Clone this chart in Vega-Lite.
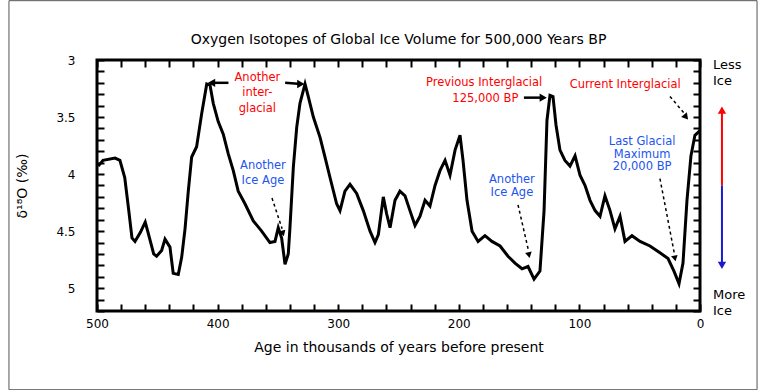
{
  "$schema": "https://vega.github.io/schema/vega-lite/v6.json",
  "width": 603,
  "height": 251,
  "autosize": "none",
  "padding": {"left": 97, "top": 60, "right": 68, "bottom": 79},
  "background": "white",
  "config": {
    "font": "DejaVu Sans",
    "view": {"stroke": "black", "strokeWidth": 3}
  },
  "title": {"text": "Oxygen Isotopes of Global Ice Volume for 500,000 Years BP", "fontSize": 14, "fontWeight": "normal", "color": "black", "offset": -47},
  "datasets": {
    "series": [
      {"age": 499, "d18O": 3.93}, {"age": 495, "d18O": 3.88}, {"age": 485, "d18O": 3.86}, {"age": 481, "d18O": 3.88},
      {"age": 477, "d18O": 4.03}, {"age": 474, "d18O": 4.29}, {"age": 471, "d18O": 4.56}, {"age": 468.5, "d18O": 4.59},
      {"age": 464, "d18O": 4.51}, {"age": 460, "d18O": 4.42}, {"age": 457.7, "d18O": 4.51}, {"age": 453, "d18O": 4.7},
      {"age": 450.6, "d18O": 4.72}, {"age": 446.4, "d18O": 4.67}, {"age": 443.6, "d18O": 4.57}, {"age": 439.5, "d18O": 4.64},
      {"age": 436.8, "d18O": 4.87}, {"age": 432.6, "d18O": 4.88}, {"age": 429.8, "d18O": 4.73}, {"age": 427, "d18O": 4.48},
      {"age": 424.3, "d18O": 4.15}, {"age": 421.5, "d18O": 3.85}, {"age": 417.4, "d18O": 3.76}, {"age": 413.2, "d18O": 3.47},
      {"age": 409, "d18O": 3.21}, {"age": 406.3, "d18O": 3.22}, {"age": 403.6, "d18O": 3.38}, {"age": 399.5, "d18O": 3.54},
      {"age": 395.3, "d18O": 3.65}, {"age": 391.2, "d18O": 3.82}, {"age": 387, "d18O": 3.97}, {"age": 382.9, "d18O": 4.15},
      {"age": 377.3, "d18O": 4.26}, {"age": 370.4, "d18O": 4.41}, {"age": 363.5, "d18O": 4.5}, {"age": 356.6, "d18O": 4.6},
      {"age": 352.4, "d18O": 4.59}, {"age": 349.7, "d18O": 4.47}, {"age": 346.9, "d18O": 4.56}, {"age": 344.1, "d18O": 4.79},
      {"age": 341.4, "d18O": 4.7}, {"age": 340, "d18O": 4.47}, {"age": 337.2, "d18O": 3.94}, {"age": 334.4, "d18O": 3.59},
      {"age": 331.7, "d18O": 3.38}, {"age": 327.5, "d18O": 3.21}, {"age": 324.8, "d18O": 3.32}, {"age": 320.6, "d18O": 3.5},
      {"age": 315, "d18O": 3.68}, {"age": 311, "d18O": 3.85}, {"age": 306.8, "d18O": 4.03}, {"age": 301.3, "d18O": 4.26},
      {"age": 298.5, "d18O": 4.32}, {"age": 294.4, "d18O": 4.15}, {"age": 290.2, "d18O": 4.09}, {"age": 284.7, "d18O": 4.17},
      {"age": 279.2, "d18O": 4.32}, {"age": 273.6, "d18O": 4.5}, {"age": 269.5, "d18O": 4.6}, {"age": 266.7, "d18O": 4.53},
      {"age": 262.6, "d18O": 4.2}, {"age": 259.8, "d18O": 4.35}, {"age": 257, "d18O": 4.47}, {"age": 252.9, "d18O": 4.23},
      {"age": 248.8, "d18O": 4.15}, {"age": 244.6, "d18O": 4.19}, {"age": 240.5, "d18O": 4.32}, {"age": 236.3, "d18O": 4.45},
      {"age": 232.2, "d18O": 4.37}, {"age": 228, "d18O": 4.23}, {"age": 223.9, "d18O": 4.28}, {"age": 219.7, "d18O": 4.1},
      {"age": 215.6, "d18O": 3.97}, {"age": 211.4, "d18O": 3.88}, {"age": 207.3, "d18O": 4.01}, {"age": 203.1, "d18O": 3.79},
      {"age": 199, "d18O": 3.66}, {"age": 196.5, "d18O": 3.88}, {"age": 193.2, "d18O": 4.23}, {"age": 189, "d18O": 4.5},
      {"age": 184, "d18O": 4.59}, {"age": 178.3, "d18O": 4.54}, {"age": 172.5, "d18O": 4.59}, {"age": 165.8, "d18O": 4.63},
      {"age": 159.2, "d18O": 4.72}, {"age": 153.4, "d18O": 4.78}, {"age": 147.6, "d18O": 4.83}, {"age": 142.6, "d18O": 4.81},
      {"age": 137.6, "d18O": 4.92}, {"age": 132.7, "d18O": 4.85}, {"age": 129.3, "d18O": 4.32}, {"age": 126.9, "d18O": 3.53},
      {"age": 124.4, "d18O": 3.31}, {"age": 121.9, "d18O": 3.32}, {"age": 119.4, "d18O": 3.57}, {"age": 116.1, "d18O": 3.79},
      {"age": 112, "d18O": 3.88}, {"age": 107.8, "d18O": 3.93}, {"age": 103.6, "d18O": 3.84}, {"age": 99.5, "d18O": 4.01},
      {"age": 95.3, "d18O": 4.1}, {"age": 91.2, "d18O": 4.23}, {"age": 87, "d18O": 4.32}, {"age": 82.9, "d18O": 4.37},
      {"age": 78.8, "d18O": 4.19}, {"age": 74.6, "d18O": 4.32}, {"age": 70.5, "d18O": 4.48}, {"age": 66.3, "d18O": 4.37},
      {"age": 62.2, "d18O": 4.59}, {"age": 56.4, "d18O": 4.54}, {"age": 49.7, "d18O": 4.59}, {"age": 41.5, "d18O": 4.63},
      {"age": 33.2, "d18O": 4.69}, {"age": 26.5, "d18O": 4.74}, {"age": 21.6, "d18O": 4.85}, {"age": 17.4, "d18O": 4.96},
      {"age": 14.1, "d18O": 4.78}, {"age": 10.8, "d18O": 4.23}, {"age": 7.5, "d18O": 3.84}, {"age": 4.2, "d18O": 3.66},
      {"age": 0, "d18O": 3.62}
    ],
    "notes": [
      {"age": 367, "d18O": 3.16, "text": "Another", "kind": "warm"},
      {"age": 367, "d18O": 3.29, "text": "inter-", "kind": "warm"},
      {"age": 367, "d18O": 3.43, "text": "glacial", "kind": "warm"},
      {"age": 179, "d18O": 3.2, "text": "Previous Interglacial", "kind": "warm"},
      {"age": 178, "d18O": 3.34, "text": "125,000 BP", "kind": "warm"},
      {"age": 62, "d18O": 3.22, "text": "Current Interglacial", "kind": "warm"},
      {"age": 362.4, "d18O": 3.93, "text": "Another", "kind": "cold"},
      {"age": 362.4, "d18O": 4.06, "text": "Ice Age", "kind": "cold"},
      {"age": 156, "d18O": 4.05, "text": "Another", "kind": "cold"},
      {"age": 156, "d18O": 4.17, "text": "Ice Age", "kind": "cold"},
      {"age": 48, "d18O": 3.72, "text": "Last Glacial", "kind": "cold"},
      {"age": 48, "d18O": 3.83, "text": "Maximum", "kind": "cold"},
      {"age": 48, "d18O": 3.94, "text": "20,000 BP", "kind": "cold"}
    ],
    "side": [
      {"age": -10.8, "d18O": 3.04, "text": "Less"},
      {"age": -10.8, "d18O": 3.18, "text": "Ice"},
      {"age": -10.8, "d18O": 5.06, "text": "More"},
      {"age": -10.8, "d18O": 5.2, "text": "Ice"}
    ],
    "arrows": [
      {"id": "igL", "style": "solid", "age": 391, "d18O": 3.2, "age2": 405, "d18O2": 3.2},
      {"id": "igR", "style": "solid", "age": 344, "d18O": 3.2, "age2": 331, "d18O2": 3.21},
      {"id": "prev", "style": "solid", "age": 146, "d18O": 3.33, "age2": 131, "d18O2": 3.33},
      {"id": "ice1", "style": "dashed", "age": 354.9, "d18O": 4.21, "age2": 346.5, "d18O2": 4.48},
      {"id": "ice2", "style": "dashed", "age": 150.9, "d18O": 4.27, "age2": 142, "d18O2": 4.68},
      {"id": "lgm", "style": "dashed", "age": 33.2, "d18O": 4.04, "age2": 21, "d18O2": 4.71},
      {"id": "cur", "style": "dashed", "age": 24.9, "d18O": 3.32, "age2": 12, "d18O2": 3.48}
    ],
    "heads": [
      {"id": "igL", "age": 405, "d18O": 3.2},
      {"id": "igR", "age": 331, "d18O": 3.21},
      {"id": "prev", "age": 130, "d18O": 3.33},
      {"id": "ice1", "age": 345.8, "d18O": 4.52},
      {"id": "ice2", "age": 141.8, "d18O": 4.71},
      {"id": "lgm", "age": 20.8, "d18O": 4.74},
      {"id": "cur", "age": 11.6, "d18O": 3.5},
      {"id": "less", "age": -18.2, "d18O": 3.44},
      {"id": "more", "age": -18.2, "d18O": 4.8}
    ],
    "iceScale": [
      {"age": -18.2, "d18O": 3.44, "d18O2": 4.1, "kind": "warm"},
      {"age": -18.2, "d18O": 4.1, "d18O2": 4.8, "kind": "coldline"}
    ],
    "frame": [
      {"age": 573, "d18O": 2.48, "age2": -47.3, "d18O2": 5.89}
    ]
  },
  "resolve": {"axis": {"x": "independent", "y": "independent"}},
  "layer": [
    {
      "data": {"name": "frame"},
      "mark": {"type": "rect", "fillOpacity": 0, "stroke": "#555555", "strokeWidth": 1},
      "encoding": {
        "x": {"field": "age", "type": "quantitative", "axis": null, "scale": {"domain": [0, 500], "reverse": true, "nice": false, "zero": false}},
        "x2": {"field": "age2"},
        "y": {"field": "d18O", "type": "quantitative", "axis": null, "scale": {"domain": [3, 5.2], "reverse": true, "nice": false, "zero": false}},
        "y2": {"field": "d18O2"}
      }
    },
    {
      "data": {"name": "series"},
      "mark": {"type": "line", "stroke": "black", "strokeWidth": 3},
      "encoding": {
        "x": {
          "field": "age", "type": "quantitative",
          "axis": {
            "orient": "bottom", "values": [0,20,40,60,80,100,120,140,160,180,200,220,240,260,280,300,320,340,360,380,400,420,440,460,480,500],
            "format": "d", "labelExpr": "datum.value % 100 === 0 ? datum.label : ''",
            "tickSize": -7, "tickWidth": 2, "tickColor": "black", "labelPadding": 14, "labelFontSize": 12, "labelColor": "black",
            "labelFlush": false, "labelOverlap": false, "labelBound": false, "domain": false, "grid": false,
            "title": "Age in thousands of years before present", "titleFontSize": 14, "titleFontWeight": "normal", "titleColor": "black", "titlePadding": 11
          }
        },
        "y": {
          "field": "d18O", "type": "quantitative",
          "axis": {
            "orient": "left", "values": [3,3.1,3.2,3.3,3.4,3.5,3.6,3.7,3.8,3.9,4,4.1,4.2,4.3,4.4,4.5,4.6,4.7,4.8,4.9,5,5.1,5.2],
            "format": "~g", "labelExpr": "abs(datum.value*2 - round(datum.value*2)) < 0.01 ? datum.label : ''",
            "tickSize": -7, "tickWidth": 2, "tickColor": "black", "labelPadding": 29, "labelFontSize": 12, "labelColor": "black",
            "labelFlush": false, "labelOverlap": false, "labelBound": false, "domain": false, "grid": false,
            "title": "δ¹⁸O (‰)", "titleFontSize": 14, "titleFontWeight": "normal", "titleColor": "black", "titlePadding": 26
          }
        }
      }
    },
    {
      "data": {"name": "series"},
      "mark": {"type": "line", "opacity": 0},
      "encoding": {
        "x": {
          "field": "age", "type": "quantitative",
          "axis": {"orient": "top", "values": [0,20,40,60,80,100,120,140,160,180,200,220,240,260,280,300,320,340,360,380,400,420,440,460,480,500],
            "labels": false, "tickSize": -7, "tickWidth": 2, "tickColor": "black", "domain": false, "grid": false, "title": null}
        },
        "y": {
          "field": "d18O", "type": "quantitative",
          "axis": {"orient": "right", "values": [3,3.1,3.2,3.3,3.4,3.5,3.6,3.7,3.8,3.9,4,4.1,4.2,4.3,4.4,4.5,4.6,4.7,4.8,4.9,5,5.1,5.2],
            "labels": false, "tickSize": -7, "tickWidth": 2, "tickColor": "black", "domain": false, "grid": false, "title": null}
        }
      }
    },
    {
      "data": {"name": "notes"},
      "mark": {"type": "text", "fontSize": 11.5, "align": "center", "baseline": "middle"},
      "encoding": {
        "x": {"field": "age", "type": "quantitative", "axis": null},
        "y": {"field": "d18O", "type": "quantitative", "axis": null},
        "text": {"field": "text"},
        "color": {"field": "kind", "type": "nominal", "legend": null, "scale": {"domain": ["warm", "cold", "coldline"], "range": ["#ff0000", "#2255ee", "#1a1acc"]}}
      }
    },
    {
      "data": {"name": "side"},
      "mark": {"type": "text", "fontSize": 13, "align": "left", "baseline": "middle", "color": "black"},
      "encoding": {
        "x": {"field": "age", "type": "quantitative", "axis": null},
        "y": {"field": "d18O", "type": "quantitative", "axis": null},
        "text": {"field": "text"}
      }
    },
    {
      "data": {"name": "arrows"},
      "transform": [{"filter": "datum.style === 'solid'"}],
      "mark": {"type": "rule", "color": "black", "strokeWidth": 2.5},
      "encoding": {
        "x": {"field": "age", "type": "quantitative", "axis": null},
        "y": {"field": "d18O", "type": "quantitative", "axis": null},
        "x2": {"field": "age2"},
        "y2": {"field": "d18O2"}
      }
    },
    {
      "data": {"name": "arrows"},
      "transform": [{"filter": "datum.style === 'dashed'"}],
      "mark": {"type": "rule", "color": "black", "strokeWidth": 1.5, "strokeDash": [3, 3]},
      "encoding": {
        "x": {"field": "age", "type": "quantitative", "axis": null},
        "y": {"field": "d18O", "type": "quantitative", "axis": null},
        "x2": {"field": "age2"},
        "y2": {"field": "d18O2"}
      }
    },
    {
      "data": {"name": "iceScale"},
      "mark": {"type": "rule", "strokeWidth": 2},
      "encoding": {
        "x": {"field": "age", "type": "quantitative", "axis": null},
        "y": {"field": "d18O", "type": "quantitative", "axis": null},
        "y2": {"field": "d18O2"},
        "color": {"field": "kind", "type": "nominal", "legend": null}
      }
    },
    {
      "data": {"name": "heads"},
      "transform": [{"filter": "datum.id === 'igL'"}],
      "mark": {"type": "point", "shape": "triangle-left", "filled": true, "color": "black", "opacity": 1, "size": 70},
      "encoding": {"x": {"field": "age", "type": "quantitative", "axis": null}, "y": {"field": "d18O", "type": "quantitative", "axis": null}}
    },
    {
      "data": {"name": "heads"},
      "transform": [{"filter": "datum.id === 'igR' || datum.id === 'prev'"}],
      "mark": {"type": "point", "shape": "triangle-right", "filled": true, "color": "black", "opacity": 1, "size": 70},
      "encoding": {"x": {"field": "age", "type": "quantitative", "axis": null}, "y": {"field": "d18O", "type": "quantitative", "axis": null}}
    },
    {
      "data": {"name": "heads"},
      "transform": [{"filter": "datum.id === 'ice1'"}],
      "mark": {"type": "point", "shape": "triangle-down", "filled": true, "color": "black", "opacity": 1, "size": 45, "angle": -17},
      "encoding": {"x": {"field": "age", "type": "quantitative", "axis": null}, "y": {"field": "d18O", "type": "quantitative", "axis": null}}
    },
    {
      "data": {"name": "heads"},
      "transform": [{"filter": "datum.id === 'ice2' || datum.id === 'lgm'"}],
      "mark": {"type": "point", "shape": "triangle-down", "filled": true, "color": "black", "opacity": 1, "size": 45, "angle": -12},
      "encoding": {"x": {"field": "age", "type": "quantitative", "axis": null}, "y": {"field": "d18O", "type": "quantitative", "axis": null}}
    },
    {
      "data": {"name": "heads"},
      "transform": [{"filter": "datum.id === 'cur'"}],
      "mark": {"type": "point", "shape": "triangle-down", "filled": true, "color": "black", "opacity": 1, "size": 55, "angle": -39},
      "encoding": {"x": {"field": "age", "type": "quantitative", "axis": null}, "y": {"field": "d18O", "type": "quantitative", "axis": null}}
    },
    {
      "data": {"name": "heads"},
      "transform": [{"filter": "datum.id === 'less'"}],
      "mark": {"type": "point", "shape": "triangle-up", "filled": true, "color": "#ff0000", "opacity": 1, "size": 70},
      "encoding": {"x": {"field": "age", "type": "quantitative", "axis": null}, "y": {"field": "d18O", "type": "quantitative", "axis": null}}
    },
    {
      "data": {"name": "heads"},
      "transform": [{"filter": "datum.id === 'more'"}],
      "mark": {"type": "point", "shape": "triangle-down", "filled": true, "color": "#1a1acc", "opacity": 1, "size": 70},
      "encoding": {"x": {"field": "age", "type": "quantitative", "axis": null}, "y": {"field": "d18O", "type": "quantitative", "axis": null}}
    }
  ]
}
